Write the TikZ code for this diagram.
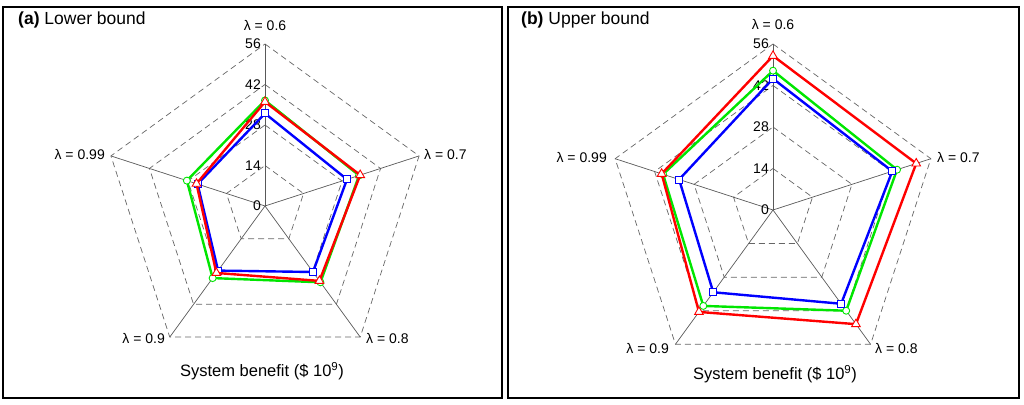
\documentclass[tikz,border=0pt]{standalone}
\usepackage{fontspec}
\setmainfont{Liberation Sans}
\usetikzlibrary{shapes.geometric}
\definecolor{gR}{RGB}{255,0,0}
\definecolor{gG}{RGB}{0,230,0}
\definecolor{gB}{RGB}{0,0,255}
\tikzset{
  grid/.style={gray!80!black, line width=0.7pt, dash pattern=on 6pt off 4pt},
  ax/.style={gray!70!black, line width=0.7pt},
  lab/.style={font=\fontsize{14}{14}\selectfont, inner sep=1pt},
  tick/.style={font=\fontsize{14}{14}\selectfont, inner sep=1pt, anchor=east},
  axt/.style={font=\fontsize{16.5}{16.5}\selectfont, inner sep=1pt},
  ser/.style={line width=2.4pt},
  tri/.style={regular polygon, regular polygon sides=3, draw=gR, fill=white, line width=0.9pt, inner sep=0pt, minimum size=10pt},
  cir/.style={circle, draw=gG, fill=white, line width=0.9pt, inner sep=0pt, minimum size=7pt},
  sqr/.style={rectangle, draw=gB, fill=white, line width=0.9pt, inner sep=0pt, minimum size=7pt},
  frame/.style={line width=1.4pt},
  ttl/.style={font=\fontsize{17.5}{17.5}\selectfont, anchor=west, inner sep=0pt}
}
% #1 prefix, #2 R
\newcommand\mygrid[2]{%
  \foreach \k in {1,2,3,4}{
    \draw[grid] (90:\k*#2/4) \foreach \i in {1,...,4}{ -- (90-72*\i:\k*#2/4)} -- cycle;
  }
  \foreach \i in {0,...,4}{ \draw[ax] (0,0) -- (90-72*\i:#2) coordinate (#1e\i); }
  \foreach \v/\k in {0/0,14/1,28/2,42/3,56/4}{ \node[tick] (#1t\v) at (-3pt,\k*#2/4) {\v}; }
}
% #1 name prefix, #2 R, #3 colour, #4 marker, #5 list
\newcommand\myser[5]{%
  \foreach \v [count=\i from 0] in {#5} { \coordinate (#1\i) at (90-72*\i:\v/56*#2); }
  \draw[ser, #3] (#10) -- (#11) -- (#12) -- (#13) -- (#14) -- cycle;
  \foreach \i in {0,...,4}{ \node[#4] (#1m\i) at (#1\i) {}; }
}
\begin{document}
\begin{tikzpicture}[x=1pt,y=-1pt]
\useasboundingbox (0,0) rectangle (1024,404);
\draw[frame] (3,7) rectangle (502,398);
\draw[frame] (508,7) rectangle (1019,398);
\node[ttl] (ta) at (18,20) {\textbf{(a)} Lower bound};
\node[ttl] (tb) at (521,20) {\textbf{(b)} Upper bound};
\begin{scope}[shift={(265,206)},y=1pt]
  \mygrid{a}{162}
  \myser{ag}{162}{gG}{cir}{36.5,34.2,32.6,30.8,28.4}
  \myser{ab}{162}{gB}{sqr}{32,29.8,28.2,27.6,24.5}
  \myser{ar}{162}{gR}{tri}{36,34.6,32,28.6,24.9}
\end{scope}
\node[lab] (a6) at (265,25) {λ = 0.6};
\node[lab,anchor=west] (a7) at (423,154) {λ = 0.7};
\node[lab,anchor=west] (a8) at (365,338) {λ = 0.8};
\node[lab,anchor=east] (a9) at (166,338) {λ = 0.9};
\node[lab,anchor=east] (a99) at (106,154) {λ = 0.99};
\node[axt] (xa) at (262,371) {System benefit (\$ 10\textsuperscript{9})};
\begin{scope}[shift={(773,210)},y=1pt]
  \mygrid{b}{166}
  \myser{bg}{166}{gG}{cir}{47,44,42,40,39}
  \myser{bb}{166}{gB}{sqr}{44.3,42.3,39.1,34.3,33.3}
  \myser{br}{166}{gR}{tri}{52,50.8,47.6,42.5,39.5}
\end{scope}
\node[lab] (b6) at (773,24) {λ = 0.6};
\node[lab,anchor=west] (b7) at (936,157) {λ = 0.7};
\node[lab,anchor=west] (b8) at (874,348) {λ = 0.8};
\node[lab,anchor=east] (b9) at (670,348) {λ = 0.9};
\node[lab,anchor=east] (b99) at (608,157) {λ = 0.99};
\node[axt] (xb) at (775,374) {System benefit (\$ 10\textsuperscript{9})};
\end{tikzpicture}
\end{document}
